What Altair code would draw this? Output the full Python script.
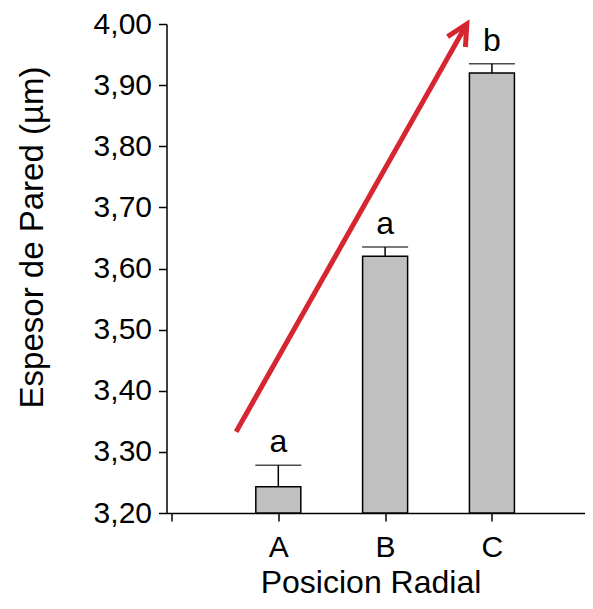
import altair as alt
import pandas as pd

# ---- data ----
categories = ["A", "B", "C"]
means = [3.243, 3.620, 3.920]
errors = [0.035, 0.015, 0.015]
letters = ["a", "a", "b"]
y_ticks = [3.2, 3.3, 3.4, 3.5, 3.6, 3.7, 3.8, 3.9, 4.0]
arrow_x = [0.605, 2.765]
arrow_y = [3.333, 4.0]

FONT = "Liberation Sans, Arial, Helvetica, sans-serif"
RED = "#d62631"

df = pd.DataFrame({
    "cat": categories,
    "pos": list(range(1, len(categories) + 1)),
    "mean": means,
    "top": [m + e for m, e in zip(means, errors)],
    "base": [y_ticks[0]] * len(categories),
    "letter": letters,
})
arrow_df = pd.DataFrame({"x": arrow_x, "y": arrow_y})
tip_df = arrow_df.iloc[[-1]]

label_expr = "datum.value == 0 ? '' : " + "[" + ",".join(f"'{c}'" for c in categories) + "][datum.value - 1]"

x_scale = alt.Scale(domain=[0, 3.82], nice=False, zero=False)
y_scale = alt.Scale(domain=[y_ticks[0], y_ticks[-1]], nice=False, zero=False)

x_axis = alt.Axis(
    values=[0, 1, 2, 3], labelExpr=label_expr, title="Posicion Radial",
    grid=False, domainColor="black", domainWidth=1.5, tickColor="black",
    tickWidth=1.5, tickSize=8, labelFont=FONT, labelFontSize=30,
    labelColor="black", labelPadding=11, labelAngle=0,
    titleFont=FONT, titleFontSize=32, titleFontWeight="normal",
    titleColor="black", titleX=204, titleY=79, titleAlign="center",
    titleBaseline="alphabetic",
)
y_axis = alt.Axis(
    values=y_ticks, labelExpr="replace(format(datum.value, '.2f'), '.', ',')",
    title="Espesor de Pared (\u00b5m)", grid=False, domainColor="black",
    domainWidth=1.5, tickColor="black", tickWidth=1.5, tickSize=8,
    labelFont=FONT, labelFontSize=30, labelColor="black", labelPadding=7,
    titleFont=FONT, titleFontSize=33, titleFontWeight="normal",
    titleColor="black", titleAngle=-90, titleX=-124, titleY=213,
    titleAlign="center", titleBaseline="alphabetic",
)

base = alt.Chart(df)

bars = base.mark_bar(size=45, color="#c0c0c0", stroke="black", strokeWidth=1.5).encode(
    x=alt.X("pos:Q", scale=x_scale, axis=x_axis),
    y=alt.Y("mean:Q", scale=y_scale, axis=y_axis),
    y2="base:Q",
)

err_rule = base.mark_rule(color="black", strokeWidth=1.5).encode(
    x="pos:Q", y="mean:Q", y2="top:Q"
)

err_cap = base.mark_tick(orient="horizontal", size=46, thickness=1.5, color="black").encode(
    x="pos:Q", y="top:Q"
)

text = base.mark_text(font=FONT, fontSize=32, color="black", baseline="alphabetic", dy=-13).encode(
    x="pos:Q", y="top:Q", text="letter:N"
)

arrow_line = alt.Chart(arrow_df).mark_line(color=RED, strokeWidth=5, strokeCap="butt").encode(
    x="x:Q", y="y:Q"
)

arrow_head = alt.Chart(tip_df).mark_point(
    shape="M -0.5 1 L 0 0 L 0.5 1", size=1700, filled=False, stroke=RED,
    strokeWidth=5, strokeJoin="miter", angle=30, opacity=1,
).encode(x="x:Q", y="y:Q")

chart = alt.layer(bars, err_rule, err_cap, text, arrow_line, arrow_head).properties(
    width=418, height=489,
    autosize=alt.AutoSizeParams(type="none"),
    padding={"left": 158.5, "top": 16, "right": 0, "bottom": 86},
    background="white",
).configure_view(stroke=None)

chart.save("out.html", embed_options={"renderer": "svg", "actions": False})
